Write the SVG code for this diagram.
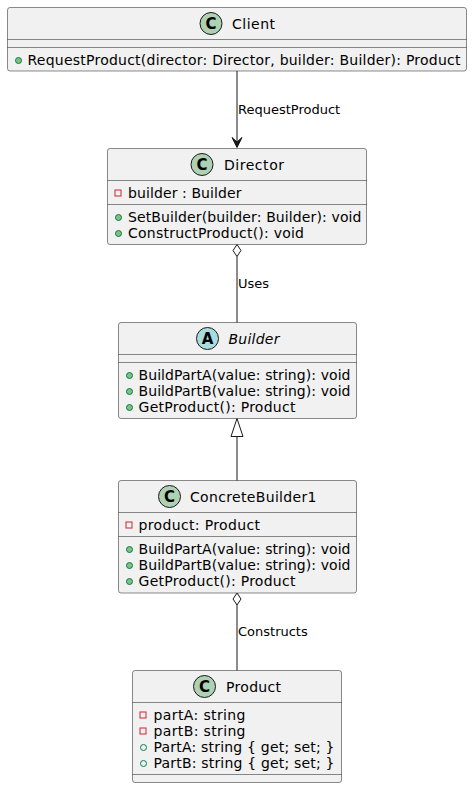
<svg xmlns="http://www.w3.org/2000/svg" width="473" height="789" viewBox="0 0 473 789">
<style>
.box{fill:#F1F1F1;stroke:#181818;stroke-width:0.5}
.sep{stroke:#181818;stroke-width:0.5}
.ic{fill:#ADD1B2;stroke:#181818;stroke-width:1}
.ia{fill:#A9DCDF;stroke:#181818;stroke-width:1}
.il{font-family:"DejaVu Sans",sans-serif;font-size:15px;font-weight:bold;fill:#000;text-anchor:middle}
.nm{font-family:"DejaVu Sans",sans-serif;font-size:14px;fill:#000}
.mb{font-family:"DejaVu Sans",sans-serif;font-size:14px;fill:#000}
.lb{font-family:"DejaVu Sans",sans-serif;font-size:13px;fill:#000}
.priv{fill:none;stroke:#C82930;stroke-width:1}
.pubm{fill:#84BE84;stroke:#038048;stroke-width:1}
.pubf{fill:none;stroke:#038048;stroke-width:1}
.ln{stroke:#181818;stroke-width:1;fill:none}
</style>
<g id="Client">
<rect class="box" x="7.5" y="7.5" width="459" height="63.5" rx="2.5"/>
<circle class="ic" cx="211" cy="23.5" r="11"/>
<text class="il" x="211" y="28.8">C</text>
<text class="nm" x="232" y="28.5" textLength="43" lengthAdjust="spacing">Client</text>
<line class="sep" x1="7.5" y1="39.5" x2="466.5" y2="39.5"/>
<line class="sep" x1="7.5" y1="47.5" x2="466.5" y2="47.5"/>
<circle class="pubm" cx="18.5" cy="60.5" r="3"/>
<text class="mb" x="27.5" y="65" textLength="433" lengthAdjust="spacing">RequestProduct(director: Director, builder: Builder): Product</text>
</g>
<g id="Director">
<rect class="box" x="107.5" y="148.5" width="259" height="96" rx="2.5"/>
<circle class="ic" cx="202" cy="164.5" r="11"/>
<text class="il" x="202" y="169.8">C</text>
<text class="nm" x="224" y="169.5" textLength="60" lengthAdjust="spacing">Director</text>
<line class="sep" x1="107.5" y1="180.5" x2="366.5" y2="180.5"/>
<rect class="priv" x="115" y="190" width="6" height="6"/>
<text class="mb" x="128" y="198" textLength="113.5" lengthAdjust="spacing">builder : Builder</text>
<line class="sep" x1="107.5" y1="204.5" x2="366.5" y2="204.5"/>
<circle class="pubm" cx="118.5" cy="217.5" r="3"/>
<text class="mb" x="128" y="222" textLength="233.5" lengthAdjust="spacing">SetBuilder(builder: Builder): void</text>
<circle class="pubm" cx="118.5" cy="233.5" r="3"/>
<text class="mb" x="128" y="238" textLength="176" lengthAdjust="spacing">ConstructProduct(): void</text>
</g>
<g id="Builder">
<rect class="box" x="118.5" y="322.5" width="238" height="96" rx="2.5"/>
<circle class="ia" cx="207.5" cy="338.5" r="11"/>
<text class="il" x="207.5" y="343.8">A</text>
<text class="nm" x="228.5" y="343.5" font-style="italic" textLength="51" lengthAdjust="spacing">Builder</text>
<line class="sep" x1="118.5" y1="354.5" x2="356.5" y2="354.5"/>
<line class="sep" x1="118.5" y1="362.5" x2="356.5" y2="362.5"/>
<circle class="pubm" cx="129.5" cy="375.5" r="3"/>
<text class="mb" x="138.5" y="380" textLength="212" lengthAdjust="spacing">BuildPartA(value: string): void</text>
<circle class="pubm" cx="129.5" cy="391.5" r="3"/>
<text class="mb" x="138.5" y="396" textLength="212" lengthAdjust="spacing">BuildPartB(value: string): void</text>
<circle class="pubm" cx="129.5" cy="407.5" r="3"/>
<text class="mb" x="138.5" y="412" textLength="157" lengthAdjust="spacing">GetProduct(): Product</text>
</g>
<g id="ConcreteBuilder1">
<rect class="box" x="118.5" y="480.5" width="238" height="112.5" rx="2.5"/>
<circle class="ic" cx="169.5" cy="496.5" r="11"/>
<text class="il" x="169.5" y="501.8">C</text>
<text class="nm" x="190" y="501.5" textLength="126.5" lengthAdjust="spacing">ConcreteBuilder1</text>
<line class="sep" x1="118.5" y1="512.5" x2="356.5" y2="512.5"/>
<rect class="priv" x="126" y="522" width="6" height="6"/>
<text class="mb" x="138.5" y="530" textLength="121.5" lengthAdjust="spacing">product: Product</text>
<line class="sep" x1="118.5" y1="536.5" x2="356.5" y2="536.5"/>
<circle class="pubm" cx="129.5" cy="549.5" r="3"/>
<text class="mb" x="138.5" y="554" textLength="212" lengthAdjust="spacing">BuildPartA(value: string): void</text>
<circle class="pubm" cx="129.5" cy="565.5" r="3"/>
<text class="mb" x="138.5" y="570" textLength="212" lengthAdjust="spacing">BuildPartB(value: string): void</text>
<circle class="pubm" cx="129.5" cy="581.5" r="3"/>
<text class="mb" x="138.5" y="586" textLength="157" lengthAdjust="spacing">GetProduct(): Product</text>
</g>
<g id="Product">
<rect class="box" x="132.5" y="670.5" width="209" height="112" rx="2.5"/>
<circle class="ic" cx="204.5" cy="686.5" r="11"/>
<text class="il" x="204.5" y="691.8">C</text>
<text class="nm" x="226" y="691.5" textLength="55" lengthAdjust="spacing">Product</text>
<line class="sep" x1="132.5" y1="702.5" x2="341.5" y2="702.5"/>
<rect class="priv" x="140" y="712" width="6" height="6"/>
<text class="mb" x="153.5" y="720" textLength="92" lengthAdjust="spacing">partA: string</text>
<rect class="priv" x="140" y="728" width="6" height="6"/>
<text class="mb" x="153.5" y="736" textLength="92" lengthAdjust="spacing">partB: string</text>
<circle class="pubf" cx="143.5" cy="747.5" r="3"/>
<text class="mb" x="153.5" y="752" textLength="181" lengthAdjust="spacing">PartA: string { get; set; }</text>
<circle class="pubf" cx="143.5" cy="763.5" r="3"/>
<text class="mb" x="153.5" y="768" textLength="181" lengthAdjust="spacing">PartB: string { get; set; }</text>
<line class="sep" x1="132.5" y1="774.5" x2="341.5" y2="774.5"/>
</g>
<g id="connectors">
<line class="ln" x1="237" y1="71" x2="237" y2="146"/>
<polygon points="237,147.5 242,137.5 237,142 232,137.5" fill="#181818" stroke="#181818" stroke-width="1"/>
<text class="lb" x="238" y="114">RequestProduct</text>
<polygon points="237,244.5 241,250.5 237,256.5 233,250.5" fill="#FFFFFF" stroke="#181818" stroke-width="1"/>
<line class="ln" x1="237" y1="256.5" x2="237" y2="322.5"/>
<text class="lb" x="238" y="288">Uses</text>
<polygon points="237,418.5 243,436.5 231,436.5" fill="#FFFFFF" stroke="#181818" stroke-width="1"/>
<line class="ln" x1="237" y1="436.5" x2="237" y2="480.5"/>
<polygon points="237,593 241,599 237,605 233,599" fill="#FFFFFF" stroke="#181818" stroke-width="1"/>
<line class="ln" x1="237" y1="605" x2="237" y2="670.5"/>
<text class="lb" x="238" y="636">Constructs</text>
</g>
</svg>
